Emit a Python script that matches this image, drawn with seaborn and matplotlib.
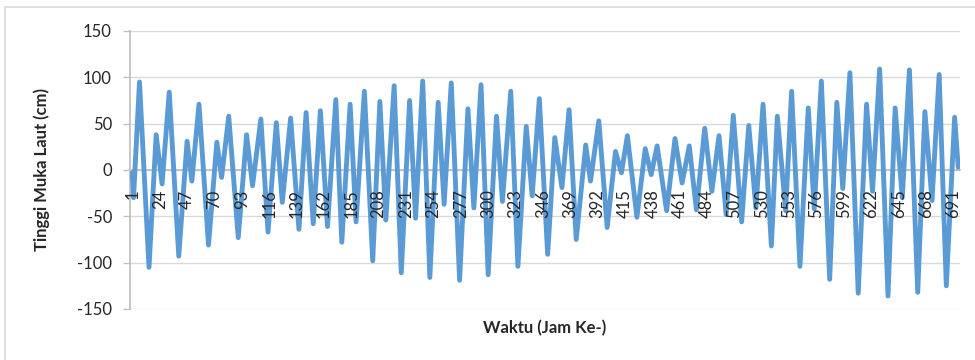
import pandas as pd
import seaborn as sns
import matplotlib.pyplot as plt
from matplotlib.lines import Line2D

# turning points of the water level (hour, cm)
hours = [1, 2, 7, 15, 21, 26, 32, 40, 47, 51, 57, 65, 72, 76, 82, 90, 97, 102,
         109, 115, 122, 127, 134, 141, 147, 153, 159, 165, 172, 177, 184, 189,
         196, 203, 209, 214, 221, 227, 234, 239, 245, 251, 258, 263, 269, 276,
         283, 288, 294, 300, 307, 312, 319, 325, 332, 337, 343, 350, 356, 362,
         368, 374, 382, 386, 393, 400, 407, 412, 417, 425, 432, 437, 442, 450,
         457, 463, 469, 475, 482, 488, 494, 500, 506, 513, 519, 525, 531, 538,
         543, 550, 555, 562, 569, 574, 580, 587, 593, 598, 604, 611, 618, 623,
         629, 636, 642, 648, 654, 661, 667, 673, 679, 685, 692, 695]
heights = [-3, -30, 95, -105, 38, -15, 84, -93, 31, -12, 71, -81, 30, -8, 58,
           -73, 38, -17, 55, -67, 51, -35, 56, -64, 62, -58, 64, -61, 76, -78,
           71, -56, 85, -98, 74, -54, 91, -111, 75, -52, 96, -116, 73, -37, 94,
           -119, 66, -41, 92, -113, 58, -34, 85, -104, 47, -28, 77, -91, 35,
           -19, 65, -75, 27, -12, 53, -62, 20, -3, 37, -51, 23, -5, 26, -44, 34,
           -14, 26, -43, 45, -23, 37, -48, 59, -56, 48, -41, 71, -82, 58, -44,
           85, -104, 67, -42, 96, -118, 73, -20, 105, -133, 71, -23, 109, -136,
           67, -30, 108, -132, 63, -33, 103, -125, 57, 3]

x_ticks = list(range(1, 692, 23))
y_ticks = [-150, -100, -50, 0, 50, 100, 150]

x_title = 'Waktu (Jam Ke-)'
y_title = 'Tinggi Muka Laut (cm)'

grid_col = '#D9D9D9'
axis_col = '#BFBFBF'
text_col = '#262626'

sns.set_theme(style='white')
plt.rcParams['font.family'] = ['Lato', 'DejaVu Sans']
plt.rcParams['axes.unicode_minus'] = False

fig = plt.figure(figsize=(9.75, 3.6), dpi=100)
ax = fig.add_axes([0.1333, 0.1417, 0.8513, 0.7722])

df = pd.DataFrame({'jam': hours, 'tinggi': heights})
sns.lineplot(data=df, x='jam', y='tinggi', ax=ax, color='#5B9BD5',
             linewidth=3.5, solid_joinstyle='round', solid_capstyle='round',
             zorder=2)

# gridlines drawn by hand so they stay under the series while the
# hour labels (part of the axis) are drawn over it, like in Excel
for yv in y_ticks:
    ax.axhline(yv, color=grid_col, linewidth=1, zorder=0.5)
ax.grid(False)
ax.set_axisbelow(False)

for side in ['top', 'right']:
    ax.spines[side].set_visible(False)
ax.spines['left'].set_color(axis_col)
ax.spines['bottom'].set_color(axis_col)
ax.spines['left'].set_zorder(0.6)
ax.spines['bottom'].set_zorder(0.6)
# category axis crosses at zero, so the hour labels sit inside the plot
ax.spines['bottom'].set_position(('data', 0))

ax.set_xlim(-1, 696.5)
ax.set_ylim(-150, 150)
ax.set_yticks(y_ticks)
ax.set_xticks(x_ticks)
ax.set_xticklabels([str(t) for t in x_ticks])

ax.tick_params(axis='y', length=5, width=1, color=axis_col, pad=8,
               labelsize=12, labelcolor=text_col, left=True)
ax.tick_params(axis='x', length=0, pad=14, labelsize=12, labelcolor=text_col,
               labelrotation=90)

ax.set_xlabel(x_title, fontsize=12, fontweight='bold', color=text_col)
ax.set_ylabel(y_title, fontsize=12, fontweight='bold', color=text_col)
ax.xaxis.set_label_coords(0.5, -0.04)
ax.yaxis.set_label_coords(-0.096, 0.5)

# chart area frame (only top and left edges show in the crop)
fig.add_artist(Line2D([0.005, 1.0], [0.981, 0.981], color=grid_col, lw=1.2,
                      transform=fig.transFigure))
fig.add_artist(Line2D([0.005, 0.005], [0.0, 0.981], color=grid_col, lw=1.2,
                      transform=fig.transFigure))

fig.savefig('out.png', dpi=100)
